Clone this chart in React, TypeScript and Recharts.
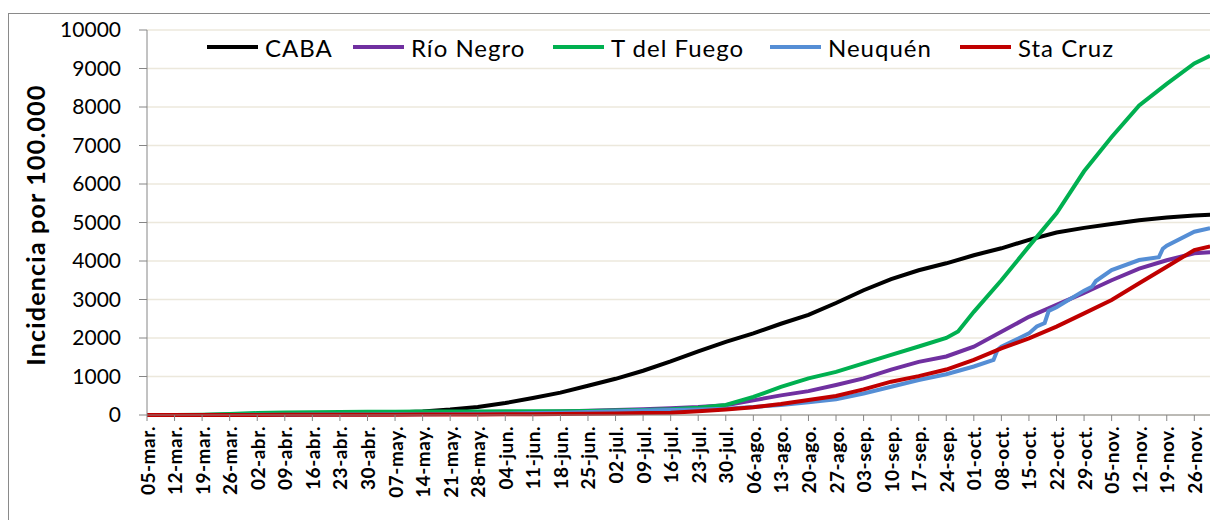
import { LineChart, Line, XAxis, YAxis, CartesianGrid } from "recharts";

const FONT = "Lato, 'Open Sans', sans-serif";

// weekly ticks from 05-mar, plus the last day shown (30-nov)
const days = [
  0, 7, 14, 21, 28, 35, 42, 49, 56, 63, 70, 77, 84, 91, 98, 105, 112, 119, 126, 133,
  140, 147, 154, 161, 168, 175, 182, 189, 196, 203, 210, 217, 224, 231, 238, 245, 252, 259, 266, 270,
];

const tickLabels = [
  "05-mar.", "12-mar.", "19-mar.", "26-mar.", "02-abr.", "09-abr.", "16-abr.", "23-abr.", "30-abr.",
  "07-may.", "14-may.", "21-may.", "28-may.", "04-jun.", "11-jun.", "18-jun.", "25-jun.", "02-jul.",
  "09-jul.", "16-jul.", "23-jul.", "30-jul.", "06-ago.", "13-ago.", "20-ago.", "27-ago.", "03-sep.",
  "10-sep.", "17-sep.", "24-sep.", "01-oct.", "08-oct.", "15-oct.", "22-oct.", "29-oct.", "05-nov.",
  "12-nov.", "19-nov.", "26-nov.",
];

const caba = [
  0, 0, 2, 8, 15, 22, 30, 38, 48, 62, 90, 140, 210, 310, 440, 580, 760, 940, 1150, 1390,
  1650, 1900, 2120, 2370, 2600, 2910, 3240, 3530, 3760, 3940, 4150, 4330, 4550, 4740, 4860, 4960, 5060, 5130, 5180, 5200,
];

const rioNegro = [
  0, 0, 2, 5, 10, 15, 20, 25, 28, 32, 38, 45, 55, 65, 75, 90, 110, 130, 150, 175,
  205, 255, 380, 510, 620, 780, 950, 1180, 1380, 1520, 1775, 2160, 2550, 2860, 3170, 3500, 3800, 4020, 4200, 4230,
];

const delFuego = [
  0, 0, 5, 25, 50, 62, 72, 78, 82, 85, 88, 90, 92, 95, 98, 100, 105, 115, 130, 150,
  190, 260, 470, 730, 950, 1120, 1340, 1560, 1780, 2000, 2680, 3500, 4380, 5240, 6330, 7220, 8040, 8600, 9130, 9330,
];
const delFuegoExtraDays = [206];
const delFuegoExtra = [2170];

const neuquen = [
  0, 0, 0, 2, 5, 7, 10, 12, 15, 17, 20, 25, 30, 40, 50, 60, 80, 100, 115, 130,
  145, 165, 210, 260, 330, 410, 560, 735, 910, 1060, 1260, 1775, 2120, 2800, 3230, 3765, 4025, 4400, 4760, 4850,
];
const neuquenExtraDays = [215, 216, 226, 228, 229, 240, 241, 257, 258];
const neuquenExtra = [1430, 1690, 2300, 2390, 2700, 3330, 3480, 4100, 4320];

const staCruz = [
  0, 0, 0, 1, 3, 4, 5, 6, 8, 9, 10, 12, 15, 18, 20, 25, 30, 40, 55, 60,
  95, 145, 200, 285, 390, 495, 665, 865, 1010, 1180, 1430, 1730, 1990, 2295, 2640, 2985, 3420, 3850, 4285, 4380,
];

const yTicks = [0, 1000, 2000, 3000, 4000, 5000, 6000, 7000, 8000, 9000, 10000];

function toPoints(values: number[], extraDays: number[] = [], extraValues: number[] = []) {
  const pts = days.map((d, i) => ({ day: d, v: values[i] }));
  extraDays.forEach((d, i) => pts.push({ day: d, v: extraValues[i] }));
  return pts.sort((a, b) => a.day - b.day);
}

const series = [
  { name: "CABA", color: "#000000", data: toPoints(caba), legendX: 207 },
  { name: "Río Negro", color: "#7030A0", data: toPoints(rioNegro), legendX: 353 },
  { name: "T del Fuego", color: "#00B050", data: toPoints(delFuego, delFuegoExtraDays, delFuegoExtra), legendX: 553 },
  { name: "Neuquén", color: "#558ED5", data: toPoints(neuquen, neuquenExtraDays, neuquenExtra), legendX: 770 },
  { name: "Sta Cruz", color: "#C00000", data: toPoints(staCruz), legendX: 960 },
];

const XTick = ({ x, y, payload }: any) => {
  const label = tickLabels[Math.round(payload.value / 7)];
  return (
    <text
      x={x}
      y={y}
      transform={`rotate(-90 ${x} ${y})`}
      textAnchor="end"
      dominantBaseline="central"
      fontFamily={FONT}
      fontWeight="bold"
      fontSize={19}
      letterSpacing={0.5}
      fill="#000"
    >
      {label}
    </text>
  );
};

const YTitle = () => (
  <text
    x={35}
    y={225}
    transform="rotate(-90 35 225)"
    textAnchor="middle"
    dominantBaseline="central"
    fontFamily={FONT}
    fontWeight="bold"
    fontSize={25}
    letterSpacing={1.2}
    fill="#000"
  >
    Incidencia por 100.000
  </text>
);

export default function App() {
  return (
    <div style={{ position: "fixed", left: 0, top: 0, width: 1210, height: 520, overflow: "hidden", background: "#fff" }}>
      <div
        style={{
          position: "absolute",
          left: 8,
          top: 13,
          width: 1260,
          height: 560,
          border: "1px solid #8a8a8a",
        }}
      />
      <div style={{ position: "absolute", left: 0, top: 0 }}>
        <LineChart width={1214} height={520} margin={{ top: 30, right: 0, bottom: 0, left: 0 }}>
          <CartesianGrid vertical={false} stroke="#ECE8DC" strokeWidth={1.5} />
          <XAxis
            type="number"
            dataKey="day"
            domain={[0, 271]}
            ticks={days.slice(0, tickLabels.length)}
            interval={0}
            height={105}
            stroke="#868686"
            tickSize={6}
            tickMargin={5}
            tick={<XTick />}
            allowDataOverflow
          />
          <YAxis
            type="number"
            domain={[0, 10000]}
            ticks={yTicks}
            interval={0}
            width={147}
            stroke="#868686"
            tickSize={8}
            tickMargin={18}
            tick={{ fontFamily: FONT, fontSize: 21, fill: "#000" }}
            label={<YTitle />}
          />
          {series.map((s) => (
            <Line
              key={s.name}
              data={s.data}
              dataKey="v"
              name={s.name}
              type="linear"
              stroke={s.color}
              strokeWidth={4}
              dot={false}
              activeDot={false}
              isAnimationActive={false}
            />
          ))}
        </LineChart>
      </div>
      {/* legend, laid over the top of the plot like the original */}
      {series.map((s) => (
        <div
          key={s.name}
          style={{
            position: "absolute",
            left: s.legendX,
            top: 32,
            height: 30,
            display: "flex",
            alignItems: "center",
            fontFamily: FONT,
            fontSize: 24,
            letterSpacing: 1,
            color: "#000",
          }}
        >
          <div style={{ width: 51, height: 4, background: s.color, marginRight: 7 }} />
          <span>{s.name}</span>
        </div>
      ))}
    </div>
  );
}
